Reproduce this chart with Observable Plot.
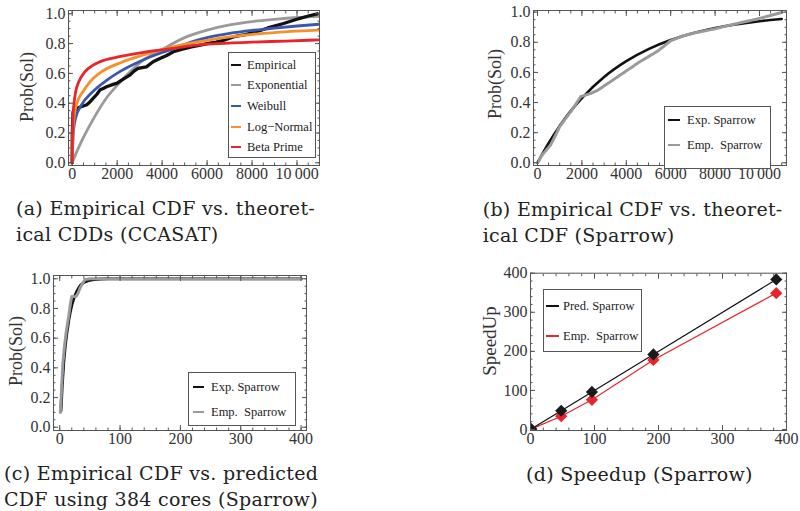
<!DOCTYPE html>
<html><head><meta charset="utf-8">
<script src="https://cdn.jsdelivr.net/npm/d3@7"></script>
<script src="https://cdn.jsdelivr.net/npm/@observablehq/plot@0.6"></script>
<style>
body{margin:0;background:#fff}
#root{position:relative;width:800px;height:511px;overflow:hidden;background:#fff}
.pnl{position:absolute}
.ylab{position:absolute;transform:translate(-50%,-50%) rotate(-90deg);white-space:nowrap;font-family:"Liberation Serif",serif;font-size:18px;color:#333}
.cap{position:absolute;white-space:nowrap;font-family:"DejaVu Serif",serif;font-size:19px;letter-spacing:0.3px;color:#222;line-height:27px}
.leg{position:absolute;border:1px solid #555;background:#fff;box-sizing:border-box}
.sw{position:absolute;height:0;border-top:2px solid}
.lt{position:absolute;font-family:"Liberation Serif",serif;font-size:12.5px;color:#222;white-space:pre;transform:translateY(-50%);line-height:14px}
</style></head><body><div id="root"></div><script>
// ---------- Panel (a): CCASAT empirical vs theoretical CDFs ----------
const aEmpX = [0, 5, 40, 120, 200, 400, 650, 800, 930, 1100, 1230, 1400, 1530, 1820, 2000, 2200, 2560, 2750, 2930, 3300, 3600, 3900, 4200, 4500, 4900, 5300, 5700, 6000, 6400, 6750, 7200, 7700, 8200, 8700, 9400, 10100, 10500, 10900];
const aEmpY = [0, 0.2, 0.34, 0.35, 0.365, 0.376, 0.39, 0.41, 0.432, 0.46, 0.488, 0.5, 0.51, 0.526, 0.535, 0.555, 0.588, 0.615, 0.633, 0.644, 0.678, 0.7, 0.72, 0.745, 0.763, 0.778, 0.79, 0.8, 0.81, 0.823, 0.846, 0.86, 0.879, 0.905, 0.935, 0.968, 0.985, 1.0];
const aExpoX = [0, 250, 500, 1000, 1500, 2000, 2500, 3000, 4000, 5000, 6000, 7000, 8000, 9000, 10000, 11000];
const aExpoY = [0, 0.09, 0.17, 0.31, 0.43, 0.52, 0.6, 0.67, 0.76, 0.84, 0.89, 0.925, 0.948, 0.963, 0.975, 0.983];
const aWeibX = [0, 40, 150, 400, 900, 1500, 2100, 3000, 4000, 4500, 5500, 6000, 7000, 8000, 9000, 10000, 11000];
const aWeibY = [0, 0.18, 0.3, 0.385, 0.475, 0.55, 0.61, 0.68, 0.74, 0.765, 0.82, 0.84, 0.868, 0.888, 0.904, 0.918, 0.93];
const aLogNX = [0, 30, 75, 190, 490, 800, 1300, 2200, 3200, 4200, 5500, 6000, 7000, 8000, 9000, 10000, 11000];
const aLogNY = [0, 0.18, 0.3, 0.39, 0.48, 0.545, 0.61, 0.675, 0.725, 0.768, 0.81, 0.822, 0.845, 0.862, 0.874, 0.883, 0.89];
const aBetaX = [0, 10, 30, 75, 160, 300, 560, 930, 1450, 2100, 3300, 4500, 5500, 6500, 8000, 9500, 11000];
const aBetaY = [0, 0.15, 0.3, 0.39, 0.48, 0.545, 0.61, 0.655, 0.69, 0.712, 0.745, 0.768, 0.79, 0.8, 0.81, 0.817, 0.825];

// ---------- Panel (b): Sparrow ----------
const bExpX = [0, 500, 1000, 1500, 2000, 3000, 4000, 5000, 6000, 7000, 8000, 9000, 10000, 11000];
const bExpY = [0, 0.13, 0.245, 0.345, 0.43, 0.57, 0.675, 0.755, 0.815, 0.86, 0.895, 0.92, 0.94, 0.955];
const bEmpX = [0, 200, 600, 1000, 1500, 1950, 2400, 2700, 3300, 3900, 4600, 5400, 6000, 6500, 7000, 7500, 8000, 8700, 9300, 9900, 10500, 11000];
const bEmpY = [0, 0.05, 0.12, 0.24, 0.34, 0.44, 0.46, 0.48, 0.54, 0.6, 0.67, 0.74, 0.81, 0.84, 0.86, 0.875, 0.89, 0.915, 0.935, 0.955, 0.978, 0.998];

// ---------- Panel (c): 384 cores ----------
const cExpX = [2, 4, 6.5, 9.5, 15, 20.5, 29, 40, 57, 80, 400];
const cExpY = [0.11, 0.27, 0.43, 0.56, 0.72, 0.83, 0.92, 0.975, 0.995, 1.0, 1.0];
const cEmpX = [1, 3, 5, 8, 11, 15, 18, 20, 27, 30, 34, 38, 42, 50, 400];
const cEmpY = [0.1, 0.25, 0.42, 0.55, 0.65, 0.75, 0.84, 0.88, 0.88, 0.9, 0.94, 0.97, 0.995, 1.0, 1.0];

// ---------- Panel (d): speedup ----------
const dCores = [1, 48, 96, 192, 384];
const dPred = [1, 48, 96, 192, 384];
const dEmp = [1, 34, 76, 178, 349];

// ---------- Ticks ----------
const abXMajor = [0, 2000, 4000, 6000, 8000, 10000];
const probMajor = [0, 0.2, 0.4, 0.6, 0.8, 1.0];
const cdXMajor = [0, 100, 200, 300, 400];
const dYMajor = [0, 100, 200, 300, 400];

// ---------- Labels ----------
const legA = ["Empirical", "Exponential", "Weibull", "Log\u2212Normal", "Beta Prime"];
const legB = ["Exp. Sparrow", "Emp.  Sparrow"];
const legD = ["Pred. Sparrow", "Emp.  Sparrow"];
const capA = ["(a) Empirical CDF vs. theoret-", "ical CDDs (CCASAT)"];
const capB = ["(b) Empirical CDF vs. theoret-", "ical CDF (Sparrow)"];
const capC = ["(c) Empirical CDF vs. predicted", "CDF using 384 cores (Sparrow)"];
const capD = ["(d) Speedup (Sparrow)"];

const FRAME = "#555", TXT = "#333";
const C_BLACK = "#111", C_GRAY = "#9a9a9a", C_BLUE = "#3a57b0", C_ORANGE = "#f5902a", C_RED = "#e8252b";
const zip = (xs, ys) => xs.map((x, i) => ({x, y: ys[i]}));
const fmtBig = d => d >= 10000 ? String(Math.floor(d / 1000)) + "\u2009" + String(d % 1000).padStart(3, "0") : String(d);
const fmt1 = d3.format(".1f");
const root = document.getElementById("root");

function panel(cfg) {
  const axes = [];
  for (const anchor of ["bottom", "top"]) {
    axes.push(Plot.axisX(cfg.xMinor, {anchor, tickSize: -2.5, tickFormat: () => "", label: null, stroke: FRAME}));
    axes.push(Plot.axisX(cfg.xMajor, {anchor, tickSize: -5, tickFormat: () => "", label: null, stroke: FRAME}));
  }
  for (const anchor of ["left", "right"]) {
    axes.push(Plot.axisY(cfg.yMinor, {anchor, tickSize: -2.5, tickFormat: () => "", label: null, stroke: FRAME}));
    axes.push(Plot.axisY(cfg.yMajor, {anchor, tickSize: -5, tickFormat: () => "", label: null, stroke: FRAME}));
  }
  axes.push(Plot.axisX(cfg.xMajor, {anchor: "bottom", tickSize: 0, tickPadding: 2, tickFormat: cfg.xFmt, label: null, fill: TXT}));
  axes.push(Plot.axisY(cfg.yMajor, {anchor: "left", tickSize: 0, tickPadding: 3, tickFormat: cfg.yFmt, label: null, fill: TXT}));
  const svg = Plot.plot({
    width: cfg.width, height: cfg.height,
    marginTop: cfg.mt, marginRight: cfg.mr, marginBottom: cfg.mb, marginLeft: cfg.ml,
    x: {domain: cfg.xDomain, axis: null},
    y: {domain: cfg.yDomain, axis: null},
    style: {fontFamily: "Liberation Serif", fontSize: "16px", overflow: "visible", background: "none"},
    marks: [...cfg.marks, ...axes, Plot.frame({stroke: FRAME, strokeWidth: 1})]
  });
  const wrap = document.createElement("div");
  wrap.className = "pnl";
  wrap.style.left = cfg.left + "px";
  wrap.style.top = cfg.top + "px";
  wrap.appendChild(svg);
  root.appendChild(wrap);
}

function ylab(text, cx, cy, size) {
  const d = document.createElement("div");
  d.className = "ylab"; d.textContent = text;
  d.style.left = cx + "px"; d.style.top = cy + "px";
  if (size) d.style.fontSize = size + "px";
  root.appendChild(d);
}
function caption(lines, left, top) {
  lines.forEach((t, i) => {
    const d = document.createElement("div");
    d.className = "cap"; d.textContent = t;
    d.style.left = left + "px"; d.style.top = (top + i * 26.5) + "px";
    root.appendChild(d);
  });
}
function legend(box, labels, colors, ys, sx1, sx2, tx) {
  const b = document.createElement("div");
  b.className = "leg";
  Object.assign(b.style, {left: box[0] + "px", top: box[1] + "px", width: box[2] + "px", height: box[3] + "px"});
  root.appendChild(b);
  labels.forEach((t, i) => {
    const s = document.createElement("div");
    s.className = "sw";
    Object.assign(s.style, {left: sx1 + "px", width: (sx2 - sx1) + "px", top: (ys[i] - 1) + "px", borderTopColor: colors[i]});
    root.appendChild(s);
    const l = document.createElement("div");
    l.className = "lt"; l.textContent = t;
    Object.assign(l.style, {left: tx + "px", top: ys[i] + "px"});
    root.appendChild(l);
  });
}

// Panel (a)
panel({
  left: 0, top: 0, width: 325, height: 190, mt: 10, mr: 6, mb: 25, ml: 68,
  xDomain: [-164, 11000], yDomain: [-0.018, 1.022],
  xMajor: abXMajor, xMinor: d3.range(0, 11001, 500), yMajor: probMajor, yMinor: d3.range(0, 1.001, 0.05),
  xFmt: fmtBig, yFmt: fmt1,
  marks: [
    Plot.line(zip(aExpoX, aExpoY), {x: "x", y: "y", stroke: C_GRAY, strokeWidth: 2.8, curve: "monotone-x", clip: true}),
    Plot.line(zip(aEmpX, aEmpY), {x: "x", y: "y", stroke: C_BLACK, strokeWidth: 3.3, clip: true}),
    Plot.line(zip(aWeibX, aWeibY), {x: "x", y: "y", stroke: C_BLUE, strokeWidth: 2.8, curve: "monotone-x", clip: true}),
    Plot.line(zip(aLogNX, aLogNY), {x: "x", y: "y", stroke: C_ORANGE, strokeWidth: 2.8, curve: "monotone-x", clip: true}),
    Plot.line(zip(aBetaX, aBetaY), {x: "x", y: "y", stroke: C_RED, strokeWidth: 2.8, curve: "monotone-x", clip: true})
  ]
});

// Panel (b)
panel({
  left: 470, top: 0, width: 325, height: 190, mt: 10, mr: 9, mb: 25, ml: 63,
  xDomain: [-180, 11216], yDomain: [-0.018, 1.011],
  xMajor: abXMajor, xMinor: d3.range(0, 11001, 500), yMajor: probMajor, yMinor: d3.range(0, 1.001, 0.05),
  xFmt: fmtBig, yFmt: fmt1,
  marks: [
    Plot.line(zip(bExpX, bExpY), {x: "x", y: "y", stroke: C_BLACK, strokeWidth: 2.6, curve: "monotone-x", clip: true}),
    Plot.line(zip(bEmpX, bEmpY), {x: "x", y: "y", stroke: C_GRAY, strokeWidth: 3, strokeDasharray: "6,1.5", clip: true})
  ]
});

// Panel (c)
panel({
  left: 0, top: 260, width: 325, height: 190, mt: 15, mr: 19, mb: 20, ml: 53,
  xDomain: [-10.3, 409], yDomain: [-0.022, 1.022],
  xMajor: cdXMajor, xMinor: d3.range(0, 401, 20), yMajor: probMajor, yMinor: d3.range(0, 1.001, 0.05),
  xFmt: d => String(d), yFmt: fmt1,
  marks: [
    Plot.line(zip(cExpX, cExpY), {x: "x", y: "y", stroke: C_BLACK, strokeWidth: 3, curve: "monotone-x", clip: true}),
    Plot.line(zip(cEmpX, cEmpY), {x: "x", y: "y", stroke: C_GRAY, strokeWidth: 3, strokeDasharray: "6,1.5", clip: true})
  ]
});

// Panel (d)
const dPredT = zip(dCores, dPred), dEmpT = zip(dCores, dEmp);
panel({
  left: 470, top: 260, width: 330, height: 190, mt: 12.7, mr: 14, mb: 20, ml: 60,
  xDomain: [0, 400], yDomain: [-2.6, 400],
  xMajor: cdXMajor, xMinor: d3.range(0, 401, 20), yMajor: dYMajor, yMinor: d3.range(0, 401, 20),
  xFmt: d => String(d), yFmt: d => String(d),
  marks: [
    Plot.line(dEmpT, {x: "x", y: "y", stroke: C_RED, strokeWidth: 1.2, clip: true}),
    Plot.line(dPredT, {x: "x", y: "y", stroke: C_BLACK, strokeWidth: 1.2, clip: true}),
    Plot.dot(dEmpT, {x: "x", y: "y", symbol: "diamond2", r: 5.5, fill: C_RED, stroke: "none", clip: true}),
    Plot.dot(dPredT, {x: "x", y: "y", symbol: "diamond2", r: 5.5, fill: "#1a1a1a", stroke: "none", clip: true})
  ]
});

ylab("Prob(Sol)", 27, 87);
ylab("Prob(Sol)", 495, 84);
ylab("Prob(Sol)", 16, 351);
ylab("SpeedUp", 490, 341, 19);

legend([228, 52, 88, 106], legA, [C_BLACK, C_GRAY, C_BLUE, C_ORANGE, C_RED], [65, 85, 106, 126.5, 146.5], 231, 241, 247);
legend([664, 106, 107, 63], legB, [C_BLACK, C_GRAY], [120, 145], 668, 680, 687);
legend([188, 372, 108, 54], legB, [C_BLACK, C_GRAY], [387, 412], 193, 204, 211);
legend([543, 289, 99, 63], legD, [C_BLACK, C_RED], [306, 336], 546, 559, 563);

caption(capA, 16, 194.5);
caption(capB, 482.7, 195.5);
caption(capC, 4, 459.5);
caption(capD, 526, 460.5);
</script></body></html>
